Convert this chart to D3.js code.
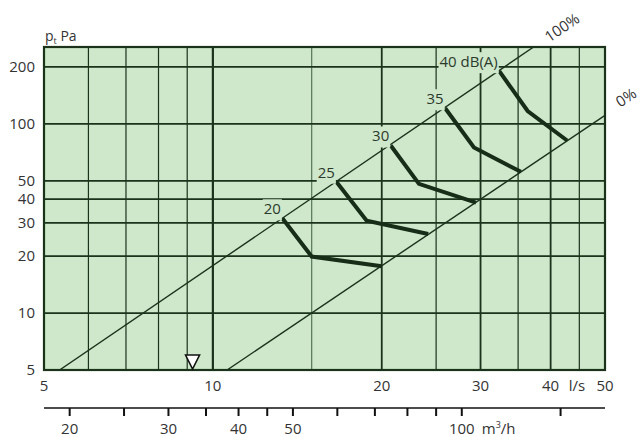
<!DOCTYPE html>
<html><head><meta charset="utf-8">
<script src="https://cdn.jsdelivr.net/npm/d3@7"></script>
<style>
body{margin:0;background:#fff;}
svg{display:block;font-family:"Open Sans",sans-serif;}
</style></head>
<body>
<svg id="c" width="640" height="437"></svg>
<script>
// ---- data ----
const yTicks = [5,10,20,30,40,50,100,200];
const yGrid = [10,20,30,40,50,100,200];
const xTicksLabeled = [5,10,20,30,40,50];
const xGridMajor = [10,20,30,40];
const xGridMinor = [6,7,8,9,25,35,45];
const xGridLight = [15];
const m3hTicks = [20,25,30,35,40,45,50,60,70,80,90,100,150];
const m3hLabels = [20,30,40,50,100];
const line100 = [[5.33,5],[37.3,255]];
const line0 = [[10.6,5],[50,111]];
const curveLabels = ["20","25","30","35","40 dB(A)"];
const curves = [
  [[13.3,31.7],[15.0,19.9],[20.0,17.7]],
  [[16.6,49.5],[18.8,30.8],[24.2,26.2]],
  [[20.75,76.9],[23.3,48.2],[29.45,38.4]],
  [[25.95,121],[29.2,75],[35.4,55.8]],
  [[32.4,190],[36.4,117],[42.8,81.7]]
];
const marker = 9.2;

// ---- chart ----
const svg = d3.select("#c");
const L=44,R=605,T=47,B=370;
const x = d3.scaleLog().domain([5,50]).range([L,R]);
const y = d3.scaleLog().domain([5,255]).range([B,T]);
const bg = "#cfe8cc", dark="#1b321b", txt="#333";

svg.append("defs").append("clipPath").attr("id","clip")
  .append("rect").attr("x",L).attr("y",T).attr("width",R-L).attr("height",B-T);

svg.append("rect").attr("x",L).attr("y",T).attr("width",R-L).attr("height",B-T).attr("fill",bg);

const g = svg.append("g");
g.selectAll(".vl").data(xGridLight).join("line")
  .attr("x1",d=>x(d)).attr("x2",d=>x(d)).attr("y1",T).attr("y2",B)
  .attr("stroke","#5f7d5f").attr("stroke-width",1.3);
g.selectAll(".vm").data(xGridMinor).join("line")
  .attr("x1",d=>x(d)).attr("x2",d=>x(d)).attr("y1",T).attr("y2",B)
  .attr("stroke",dark).attr("stroke-width",1.2);
g.selectAll(".vM").data(xGridMajor).join("line")
  .attr("x1",d=>x(d)).attr("x2",d=>x(d)).attr("y1",T).attr("y2",B)
  .attr("stroke",dark).attr("stroke-width",d=>d===10?2.2:1.8);
g.selectAll(".hl").data(yGrid).join("line")
  .attr("x1",L).attr("x2",R).attr("y1",d=>y(d)).attr("y2",d=>y(d))
  .attr("stroke",dark).attr("stroke-width",1.8);

const lg = d3.line().x(d=>x(d[0])).y(d=>y(d[1]));
const pc = svg.append("g").attr("clip-path","url(#clip)");
[line100,line0].forEach(l=>{
  pc.append("path").attr("d",lg(l)).attr("fill","none").attr("stroke",dark).attr("stroke-width",1.4);
});

// curve labels with background
const lab = svg.append("g");
curves.forEach((c,i)=>{
  const t = lab.append("text").attr("x",x(c[0][0])-1.5).attr("y",y(c[0][1])-4)
    .attr("text-anchor","end").attr("font-size",15).attr("fill","#2c3a2c").text(curveLabels[i]);
  const bb = t.node().getBBox();
  lab.insert("rect","text:last-of-type")
    .attr("x",bb.x-1).attr("y",bb.y+1).attr("width",bb.width+2).attr("height",bb.height+1)
    .attr("fill",bg);
});
// re-order: rects under texts
lab.selectAll("rect").lower();

pc.selectAll(".cv").data(curves).join("path").attr("d",lg).attr("fill","none")
  .attr("stroke","#172d17").attr("stroke-width",4).attr("stroke-linejoin","miter");

// border
svg.append("rect").attr("x",L).attr("y",T).attr("width",R-L).attr("height",B-T)
  .attr("fill","none").attr("stroke",dark).attr("stroke-width",2.2);

// marker
const mx = x(marker);
svg.append("path").attr("d",`M${mx-7},${B-15}L${mx+7},${B-15}L${mx},${B-1}Z`)
  .attr("fill","#fff").attr("stroke","#111").attr("stroke-width",1.6).attr("stroke-linejoin","miter");

// y labels
svg.selectAll(".yl").data(yTicks).join("text")
  .attr("x",35).attr("y",d=>y(d)+5).attr("text-anchor","end")
  .attr("font-size",15).attr("fill",txt).text(d=>d);
const pt = svg.append("text").attr("x",45).attr("y",41).attr("font-size",14).attr("fill",txt);
pt.append("tspan").text("p");
pt.append("tspan").attr("font-size",9).attr("dy",3).text("t");
pt.append("tspan").attr("dy",-3).text(" Pa");

// x labels l/s
svg.selectAll(".xl").data(xTicksLabeled).join("text")
  .attr("x",d=>x(d)).attr("y",391).attr("text-anchor","middle")
  .attr("font-size",15).attr("fill",txt).text(d=>d);
svg.append("text").attr("x",577).attr("y",391).attr("text-anchor","middle")
  .attr("font-size",15).attr("fill",txt).text("l/s");

// m3/h axis
const xm = d=>x(d/3.6);
svg.append("line").attr("x1",L).attr("x2",R).attr("y1",408).attr("y2",408)
  .attr("stroke","#111").attr("stroke-width",1.6);
svg.selectAll(".mt").data(m3hTicks).join("line")
  .attr("x1",xm).attr("x2",xm).attr("y1",408).attr("y2",416)
  .attr("stroke","#111").attr("stroke-width",2);
svg.selectAll(".ml").data(m3hLabels).join("text")
  .attr("x",xm).attr("y",434).attr("text-anchor","middle")
  .attr("font-size",15).attr("fill",txt).text(d=>d);
const mu = svg.append("text").attr("x",xm(100)+20).attr("y",434).attr("font-size",15).attr("fill",txt);
mu.append("tspan").text("m");
mu.append("tspan").attr("font-size",9).attr("dy",-6).text("3");
mu.append("tspan").attr("dy",6).text("/h");

// percent labels
svg.append("text").attr("transform","translate(565,32) rotate(-34)")
  .attr("text-anchor","middle").attr("font-size",15).attr("fill",txt).text("100%");
svg.append("text").attr("transform","translate(629,102) rotate(-34)")
  .attr("text-anchor","middle").attr("font-size",15).attr("fill",txt).text("0%");
</script>
</body></html>
